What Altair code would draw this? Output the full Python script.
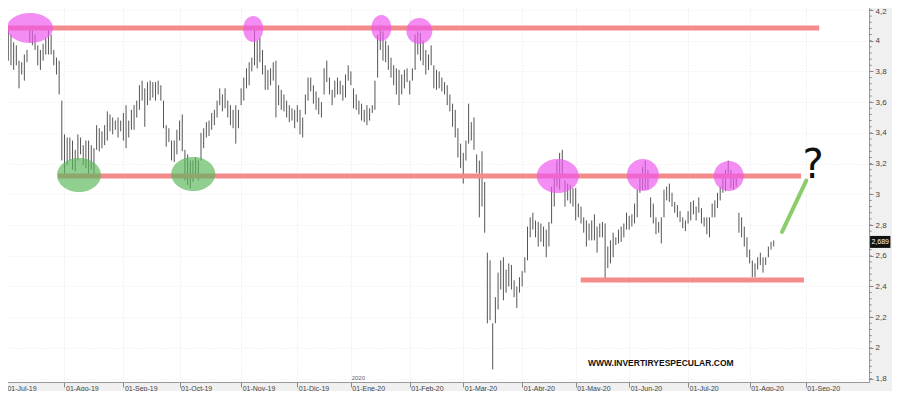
import altair as alt
import pandas as pd

# ---------------- data ----------------
month_labels = ["01-Jul-19", "01-Ago-19", "01-Sep-19", "01-Oct-19", "01-Nov-19", "01-Dic-19",
                "01-Ene-20", "01-Feb-20", "01-Mar-20", "01-Abr-20", "01-May-20", "01-Jun-20",
                "01-Jul-20", "01-Ago-20", "01-Sep-20"]
# trading sessions per month (Jul-19 .. Ago-20)
month_sessions = [23, 22, 21, 23, 21, 20, 22, 20, 22, 20, 20, 22, 23, 21]

high_jul19 = [3.97, 4.13, 4.08, 4.04, 3.99, 3.97, 3.87, 3.86, 3.91, 3.94, 4.08, 4.10, 4.04, 3.97, 3.94, 3.98, 4.02, 4.07, 4.04, 3.94, 3.89, 3.87, 3.61]
low_jul19 = [3.78, 3.76, 3.87, 3.84, 3.81, 3.84, 3.69, 3.78, 3.74, 3.86, 3.99, 3.97, 3.94, 3.84, 3.81, 3.87, 3.91, 3.91, 3.91, 3.84, 3.78, 3.65, 3.22]
high_aug19 = [3.39, 3.37, 3.37, 3.35, 3.29, 3.39, 3.37, 3.32, 3.35, 3.35, 3.32, 3.30, 3.45, 3.43, 3.41, 3.45, 3.54, 3.52, 3.50, 3.48, 3.50, 3.48]
low_aug19 = [3.13, 3.19, 3.22, 3.16, 3.15, 3.22, 3.26, 3.19, 3.17, 3.13, 3.16, 3.11, 3.29, 3.28, 3.30, 3.32, 3.35, 3.41, 3.39, 3.42, 3.37, 3.41]
high_sep19 = [3.53, 3.58, 3.48, 3.55, 3.58, 3.61, 3.71, 3.74, 3.69, 3.73, 3.74, 3.73, 3.73, 3.74, 3.71, 3.61, 3.45, 3.43, 3.35, 3.35, 3.42]
low_sep19 = [3.35, 3.30, 3.37, 3.42, 3.42, 3.50, 3.55, 3.61, 3.44, 3.58, 3.61, 3.63, 3.61, 3.65, 3.61, 3.43, 3.31, 3.34, 3.22, 3.21, 3.26]
high_oct19 = [3.48, 3.52, 3.29, 3.26, 3.22, 3.22, 3.24, 3.22, 3.40, 3.43, 3.47, 3.48, 3.53, 3.55, 3.61, 3.69, 3.65, 3.69, 3.61, 3.58, 3.55, 3.58, 3.55]
low_oct19 = [3.35, 3.28, 3.09, 3.06, 3.04, 3.08, 3.13, 3.09, 3.22, 3.30, 3.37, 3.38, 3.42, 3.45, 3.50, 3.58, 3.54, 3.56, 3.50, 3.45, 3.43, 3.33, 3.43]
high_nov19 = [3.69, 3.76, 3.82, 3.86, 3.89, 4.07, 4.00, 4.02, 3.94, 3.84, 3.81, 3.82, 3.86, 3.87, 3.71, 3.68, 3.65, 3.61, 3.58, 3.56, 3.55]
low_nov19 = [3.58, 3.61, 3.69, 3.71, 3.80, 3.84, 3.82, 3.86, 3.78, 3.68, 3.68, 3.71, 3.74, 3.50, 3.58, 3.55, 3.54, 3.50, 3.47, 3.48, 3.43]
high_dec19 = [3.58, 3.55, 3.50, 3.65, 3.76, 3.76, 3.71, 3.67, 3.63, 3.60, 3.82, 3.87, 3.76, 3.68, 3.74, 3.76, 3.74, 3.71, 3.78, 3.84]
low_dec19 = [3.47, 3.39, 3.37, 3.52, 3.61, 3.67, 3.59, 3.55, 3.52, 3.50, 3.65, 3.73, 3.65, 3.58, 3.63, 3.65, 3.65, 3.61, 3.63, 3.74]
high_jan20 = [3.80, 3.69, 3.65, 3.61, 3.59, 3.55, 3.58, 3.56, 3.58, 3.74, 4.04, 4.10, 4.06, 4.00, 3.97, 3.89, 3.84, 3.82, 3.81, 3.78, 3.81, 3.82]
low_jan20 = [3.71, 3.56, 3.55, 3.52, 3.48, 3.47, 3.45, 3.48, 3.53, 3.55, 3.76, 3.94, 3.87, 3.86, 3.81, 3.76, 3.71, 3.65, 3.58, 3.65, 3.69, 3.73]
high_feb20 = [3.74, 3.82, 4.04, 4.06, 4.05, 4.00, 3.94, 3.91, 3.97, 3.84, 3.81, 3.80, 3.76, 3.73, 3.71, 3.65, 3.59, 3.55, 3.43, 3.33]
low_feb20 = [3.65, 3.74, 3.81, 3.91, 3.87, 3.84, 3.78, 3.81, 3.84, 3.69, 3.68, 3.69, 3.67, 3.65, 3.58, 3.54, 3.44, 3.37, 3.24, 3.17]
high_mar20 = [3.27, 3.35, 3.59, 3.47, 3.50, 3.26, 3.22, 3.28, 3.08, 2.62, 2.57, 2.16, 2.33, 2.49, 2.57, 2.59, 2.51, 2.55, 2.54, 2.44, 2.40, 2.46]
low_mar20 = [3.07, 3.22, 3.33, 3.35, 3.29, 3.14, 2.85, 2.92, 2.75, 2.16, 2.18, 1.86, 2.16, 2.25, 2.38, 2.31, 2.36, 2.40, 2.38, 2.33, 2.26, 2.36]
high_apr20 = [2.50, 2.59, 2.79, 2.85, 2.88, 2.83, 2.82, 2.81, 2.79, 2.77, 2.82, 3.05, 3.11, 3.22, 3.27, 3.29, 3.09, 3.07, 3.06, 3.04]
low_apr20 = [2.40, 2.49, 2.57, 2.72, 2.77, 2.72, 2.66, 2.69, 2.66, 2.59, 2.66, 2.81, 2.92, 3.05, 3.03, 3.11, 2.92, 2.96, 2.94, 2.92]
high_may20 = [3.04, 2.94, 2.92, 2.85, 2.83, 2.81, 2.83, 2.87, 2.79, 2.81, 2.82, 2.81, 2.66, 2.70, 2.75, 2.72, 2.77, 2.79, 2.81, 2.88]
low_may20 = [2.83, 2.85, 2.81, 2.75, 2.66, 2.70, 2.70, 2.70, 2.62, 2.72, 2.72, 2.45, 2.52, 2.55, 2.59, 2.67, 2.68, 2.69, 2.72, 2.77]
high_jun20 = [2.86, 2.87, 2.94, 3.03, 3.11, 3.18, 3.22, 3.16, 2.98, 2.94, 2.85, 2.82, 2.85, 3.03, 3.05, 3.07, 3.01, 2.95, 2.93, 2.89, 2.85, 2.83]
low_jun20 = [2.77, 2.79, 2.81, 2.85, 3.01, 3.03, 3.03, 3.03, 2.85, 2.81, 2.74, 2.75, 2.68, 2.85, 2.96, 2.95, 2.92, 2.88, 2.85, 2.82, 2.78, 2.76]
high_jul20 = [2.89, 2.95, 2.96, 2.92, 2.98, 2.91, 2.85, 2.85, 2.85, 2.94, 2.96, 3.01, 3.05, 3.11, 3.16, 3.22, 3.16, 3.11, 3.11, 2.88, 2.85, 2.79, 2.72]
low_jul20 = [2.81, 2.83, 2.87, 2.83, 2.88, 2.81, 2.79, 2.74, 2.72, 2.85, 2.85, 2.91, 2.96, 3.01, 3.02, 3.11, 3.04, 3.03, 3.05, 2.75, 2.72, 2.66, 2.59]
high_aug20 = [2.64, 2.57, 2.55, 2.59, 2.62, 2.59, 2.59, 2.66, 2.69, 2.70]
low_aug20 = [2.55, 2.46, 2.46, 2.51, 2.54, 2.49, 2.54, 2.59, 2.64, 2.66]

last_close = 2.689

# support / resistance lines drawn on the chart (price levels)
resistance_top = 4.083
resistance_mid = 3.119
support_low = 2.442

y_major = [1.8, 2.0, 2.2, 2.4, 2.6, 2.8, 3.0, 3.2, 3.4, 3.6, 3.8, 4.0, 4.2]

# ---------------- build tables ----------------
highs = (high_jul19 + high_aug19 + high_sep19 + high_oct19 + high_nov19 + high_dec19 + high_jan20 +
         high_feb20 + high_mar20 + high_apr20 + high_may20 + high_jun20 + high_jul20 + high_aug20)
lows = (low_jul19 + low_aug19 + low_sep19 + low_oct19 + low_nov19 + low_dec19 + low_jan20 +
        low_feb20 + low_mar20 + low_apr20 + low_may20 + low_jun20 + low_jul20 + low_aug20)
bars = pd.DataFrame({"i": list(range(len(highs))), "high": highs, "low": lows})

month_start = [0]
for n in month_sessions:
    month_start.append(month_start[-1] + n)

X0, X1 = -1.1, 323.6
Y0, Y1 = 1.778, 4.252
xs = alt.Scale(domain=[X0, X1], nice=False, zero=False)
ys = alt.Scale(domain=[Y0, Y1], nice=False, zero=False)

label_expr = ("[" + ",".join(f"'{l}'" for l in month_labels) + "][indexof([" +
              ",".join(str(v) for v in month_start) + "], datum.value)]")

x_axis = alt.Axis(values=month_start, labelExpr=label_expr, title=None, orient="bottom",
                  labelAlign="left", labelFontSize=7, labelColor="#444", labelPadding=-3,
                  labelOffset={"condition": {"test": "datum.value === 0", "value": 4}, "value": 1},
                  labelFont="Liberation Sans", tickSize=5, tickColor="#888", domainColor="#999",
                  labelOverlap=False, labelFlush=False,
                  grid=True, gridColor="#e4e4e4", gridDash=[1, 2])
y_axis = alt.Axis(values=y_major, labelExpr="replace(format(datum.value, '~g'), '.', ',')",
                  title=None, orient="right", labelFontSize=8, labelColor="#444",
                  labelFont="Liberation Sans", labelPadding=2, tickSize=4, tickColor="#888",
                  labelOverlap=False, labelFlush=False,
                  labelOffset={"condition": {"test": "datum.value > 4.1", "value": 2}, "value": 0},
                  domainColor="#999", grid=True, gridColor="#ececec", gridDash=[1, 2])


# every layer carries the same axis definition, so the merged axes keep all settings
def X(field):
    return alt.X(field, scale=xs, axis=x_axis)


def Y(field):
    return alt.Y(field, scale=ys, axis=y_axis)


bar_layer = alt.Chart(bars).mark_rule(color="#555555", strokeWidth=1).encode(
    x=X("i:Q"), y=Y("low:Q"), y2="high:Q")

lines = pd.DataFrame({
    "x": [X0, 20.6, 215.9],
    "x2": [305.0, 298.2, 299.3],
    "y": [resistance_top, resistance_mid, support_low],
})
line_layer = alt.Chart(lines).mark_rule(color="#f38a8c", strokeWidth=5).encode(
    x=X("x:Q"), x2="x2:Q", y=Y("y:Q"))


def ell_path(ratio):
    return f"M -1 0 A 1 {ratio} 0 1 1 1 0 A 1 {ratio} 0 1 1 -1 0 Z"


# ellipse annotations: centre (session index, price), half width px, half height px, colour
ellipses = [
    (10.1, 4.083, 23, 15, "#ee55ee"),
    (93.5, 4.076, 10, 13, "#ee55ee"),
    (141.4, 4.083, 10, 13, "#ee55ee"),
    (155.6, 4.063, 13, 13, "#ee55ee"),
    (207.3, 3.119, 21, 17, "#ee55ee"),
    (239.1, 3.126, 16, 16, "#ee55ee"),
    (271.2, 3.119, 15, 15, "#ee55ee"),
    (28.4, 3.126, 22, 17, "#5cb85c"),
    (71.1, 3.132, 22, 17, "#5cb85c"),
]
ell_df = pd.DataFrame({
    "x": [e[0] for e in ellipses],
    "y": [e[1] for e in ellipses],
    "shape": [ell_path(round(e[3] / e[2], 3)) for e in ellipses],
    "size": [(2 * e[2]) ** 2 for e in ellipses],
    "col": [e[4] for e in ellipses],
})
ell_layer = alt.Chart(ell_df).mark_point(filled=True, opacity=0.68, strokeWidth=0).encode(
    x=X("x:Q"), y=Y("y:Q"),
    shape=alt.Shape("shape:N", scale=None),
    size=alt.Size("size:Q", scale=None),
    color=alt.Color("col:N", scale=None),
)

arrow_df = pd.DataFrame({"x": [291.1], "x2": [300.2], "y": [2.755], "y2": [3.09]})
arrow_layer = alt.Chart(arrow_df).mark_rule(color="#8ccc6c", strokeWidth=4, strokeCap="round").encode(
    x=X("x:Q"), x2="x2:Q", y=Y("y:Q"), y2="y2:Q")

texts = pd.DataFrame({"x": [302.7], "y": [3.185], "t": ["?"]})
q_layer = alt.Chart(texts).mark_text(fontSize=40, font="DejaVu Sans", color="#111",
                                     baseline="middle", align="center").encode(
    x=X("x:Q"), y=Y("y:Q"), text="t:N")

wm = pd.DataFrame({"x": [245.8], "y": [1.902], "t": ["WWW.INVERTIRYESPECULAR.COM"]})
wm_layer = alt.Chart(wm).mark_text(fontSize=8.5, font="Liberation Sans", fontWeight="bold",
                                   color="#111", baseline="middle", align="center").encode(
    x=X("x:Q"), y=Y("y:Q"), text="t:N")

yr = pd.DataFrame({"x": [130.3], "y": [Y0 + 0.008], "t": ["2020"]})
yr_layer = alt.Chart(yr).mark_text(fontSize=6, font="Liberation Sans", color="#666",
                                   baseline="bottom", align="left").encode(
    x=X("x:Q"), y=Y("y:Q"), text="t:N")

# minor ticks on the right price axis
minor_vals = [round(1.72 + 0.04 * k, 2) for k in range(1, 64)]
minor_vals = [v for v in minor_vals if Y0 < v < Y1]
minor_df = pd.DataFrame({"x": [X1] * len(minor_vals), "x2": [X1 + 1.0] * len(minor_vals), "y": minor_vals})
minor_layer = alt.Chart(minor_df).mark_rule(color="#888", strokeWidth=1).encode(
    x=X("x:Q"), x2="x2:Q", y=Y("y:Q"))

# last price tag
tag = pd.DataFrame({"x": [X1 + 0.4], "x2": [X1 + 8.0], "y": [2.651], "y2": [2.729],
                    "xt": [X1 + 4.2], "yt": [last_close], "t": ["2,689"]})
tag_rect = alt.Chart(tag).mark_rect(color="#111").encode(
    x=X("x:Q"), x2="x2:Q", y=Y("y:Q"), y2="y2:Q")
tag_text = alt.Chart(tag).mark_text(fontSize=7, font="Liberation Sans", color="white",
                                    baseline="middle", align="center").encode(
    x=X("xt:Q"), y=Y("yt:Q"), text="t:N")

chart = alt.layer(
    bar_layer, line_layer, ell_layer, arrow_layer, q_layer, wm_layer, yr_layer,
    minor_layer, tag_rect, tag_text,
).properties(
    width=869, height=380,
    padding={"left": -8, "top": -6, "right": 23, "bottom": 9},
    autosize=alt.AutoSizeParams(type="none"),
    background="#f0f0f0",
).configure_view(fill="white", stroke="#c0c0c0").configure_axis(labelOverlap=False)

chart.save("out.html", embed_options={"renderer": "svg", "actions": False})
